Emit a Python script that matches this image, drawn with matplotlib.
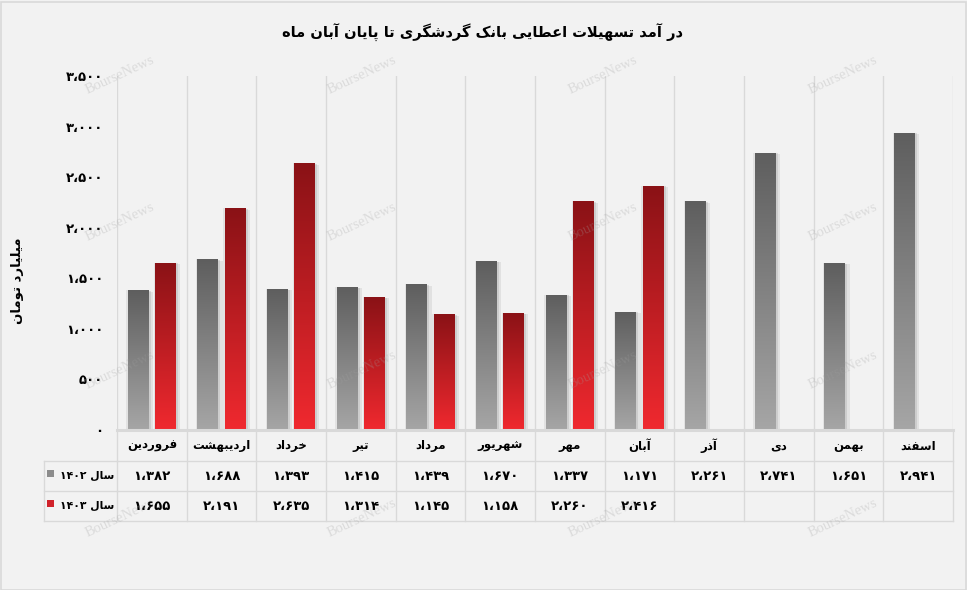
import matplotlib
matplotlib.use("Agg")
import matplotlib.pyplot as plt
import numpy as np
from matplotlib.colors import LinearSegmentedColormap
from matplotlib.patches import Rectangle
from matplotlib import patheffects as pe

# ---------------- data ----------------
months = ["فروردین", "اردیبهشت", "خرداد", "تیر", "مرداد", "شهریور",
          "مهر", "آبان", "آذر", "دی", "بهمن", "اسفند"]
series_names = ["سال ۱۴۰۲", "سال ۱۴۰۳"]
values_1402 = [1382, 1688, 1393, 1415, 1439, 1670, 1337, 1171, 2261, 2741, 1651, 2941]
values_1403 = [1655, 2191, 2635, 1314, 1145, 1158, 2260, 2416]
y_ticks = [0, 500, 1000, 1500, 2000, 2500, 3000, 3500]
title = "در آمد تسهیلات اعطایی بانک گردشگری تا پایان آبان ماه"
y_label = "میلیارد تومان"

# ---------------- simple Persian shaping ----------------
DUAL = {'ب': 0xFE8F, 'ت': 0xFE95, 'ث': 0xFE99, 'ج': 0xFE9D, 'ح': 0xFEA1,
        'خ': 0xFEA5, 'س': 0xFEB1, 'ش': 0xFEB5, 'ص': 0xFEB9, 'ض': 0xFEBD,
        'ط': 0xFEC1, 'ظ': 0xFEC5, 'ع': 0xFEC9, 'غ': 0xFECD, 'ف': 0xFED1,
        'ق': 0xFED5, 'ل': 0xFEDD, 'م': 0xFEE1, 'ن': 0xFEE5, 'ه': 0xFEE9,
        'پ': 0xFB56, 'چ': 0xFB7A, 'ک': 0xFB8E, 'گ': 0xFB92, 'ی': 0xFBFC}
RIGHT = {'ا': 0xFE8D, 'آ': 0xFE81, 'د': 0xFEA9, 'ذ': 0xFEAB, 'ر': 0xFEAD,
         'ز': 0xFEAF, 'ژ': 0xFB8A, 'و': 0xFEED}
LAMALEF = {'ا': 0xFEFB, 'آ': 0xFEF5}


def is_letter(c):
    return c in DUAL or c in RIGHT


def shape_word(w):
    out = []
    i = 0
    n = len(w)
    while i < n:
        c = w[i]
        prev_conn = i > 0 and w[i - 1] in DUAL
        if c == 'ل' and i + 1 < n and w[i + 1] in LAMALEF:
            base = LAMALEF[w[i + 1]]
            out.append(chr(base + (1 if prev_conn else 0)))
            i += 2
            continue
        next_conn = i + 1 < n and is_letter(w[i + 1])
        if c in DUAL:
            b = DUAL[c]
            if prev_conn and next_conn:
                out.append(chr(b + 3))
            elif prev_conn:
                out.append(chr(b + 1))
            elif next_conn:
                out.append(chr(b + 2))
            else:
                out.append(chr(b))
        elif c in RIGHT:
            b = RIGHT[c]
            out.append(chr(b + (1 if prev_conn else 0)))
        else:
            out.append(c)
        i += 1
    return ''.join(reversed(out))


def rtl(text):
    words = text.split(' ')
    shaped = []
    for w in words:
        if any(is_letter(c) for c in w):
            shaped.append(shape_word(w))
        else:
            shaped.append(w)
    return ' '.join(reversed(shaped))


DIG = str.maketrans('0123456789', '۰۱۲۳۴۵۶۷۸۹')


def fa_num(v):
    return f"{v:,}".replace(',', '،').translate(DIG)


# ---------------- figure ----------------
W, H = 967, 590
BG = '#f2f2f2'
GRID = '#d9d9d9'
plt.rcParams['font.family'] = ['DejaVu Sans']
fig = plt.figure(figsize=(W / 100, H / 100), dpi=100, facecolor=BG)

L, R, T, B = 117, 953, 76, 430
ax = fig.add_axes([L / W, 1 - B / H, (R - L) / W, (B - T) / H])
ax.set_facecolor(BG)

n = len(months)
x = np.arange(n)
bw = 0.30
off = 0.195

gray_cmap = LinearSegmentedColormap.from_list('g', ['#5e5e5e', '#a6a6a6'])
red_cmap = LinearSegmentedColormap.from_list('r', ['#8a1216', '#f0292f'])
grad = np.linspace(0, 1, 256).reshape(-1, 1)

shadow = [pe.SimplePatchShadow(offset=(3, -1), shadow_rgbFace='#b0b0b0', alpha=0.25),
          pe.SimplePatchShadow(offset=(1.5, -0.5), shadow_rgbFace='#a0a0a0', alpha=0.3),
          pe.SimplePatchShadow(offset=(-1, 0), shadow_rgbFace='#c0c0c0', alpha=0.3),
          pe.Normal()]
bars1 = ax.bar(x - off, values_1402, bw, color='#808080', zorder=3, path_effects=shadow, linewidth=0)
bars2 = ax.bar(x[:len(values_1403)] + off, values_1403, bw, color='#c0191f', zorder=3,
               path_effects=shadow, linewidth=0)

for bars, cmap in ((bars1, gray_cmap), (bars2, red_cmap)):
    for p in bars:
        x0, w0, h0 = p.get_x(), p.get_width(), p.get_height()
        im = ax.imshow(grad, extent=[x0, x0 + w0, 0, h0], aspect='auto', cmap=cmap,
                       origin='upper', zorder=4, interpolation='bilinear')
        im.set_clip_path(p)

ax.set_xlim(-0.5, n - 0.5)
ax.set_ylim(0, 3500)
ax.set_yticks(y_ticks)
ax.set_yticklabels([fa_num(v) for v in y_ticks], fontweight='bold', fontsize=9.5)
ax.tick_params(axis='y', length=0, pad=10)
ax.set_xticks([])
for s in ax.spines.values():
    s.set_visible(False)

# vertical category separators
for b in np.arange(-0.5, n, 1.0):
    ax.axvline(b, color=GRID, lw=1, zorder=1)

# ---------------- table ----------------
ph = B - T


def ay(py):
    return (B - py) / ph


xt = ax.get_xaxis_transform()
row_lines = [461, 491, 521]
ax.plot([-0.5, n - 0.5], [0, 0], transform=xt, color=GRID, lw=2.2, clip_on=False, zorder=5)
for b in np.arange(-0.5, n, 1.0):
    ax.plot([b, b], [ay(430), ay(521)], transform=xt, color=GRID, lw=1, clip_on=False)
for py in row_lines:
    ax.plot([-0.5, n - 0.5], [ay(py), ay(py)], transform=xt, color=GRID, lw=1, clip_on=False)
    fig.add_artist(plt.Line2D([44 / W, L / W], [1 - py / H, 1 - py / H], color=GRID, lw=1))
fig.add_artist(plt.Line2D([44 / W, 44 / W], [1 - 461 / H, 1 - 521 / H], color=GRID, lw=1))

for i, m in enumerate(months):
    ax.text(i, ay(446), rtl(m), transform=xt, ha='center', va='center',
            fontsize=8.5, fontweight='bold', clip_on=False)
for i, v in enumerate(values_1402):
    ax.text(i, ay(476), fa_num(v), transform=xt, ha='center', va='center',
            fontsize=9.5, fontweight='bold', clip_on=False)
for i, v in enumerate(values_1403):
    ax.text(i, ay(506), fa_num(v), transform=xt, ha='center', va='center',
            fontsize=9.5, fontweight='bold', clip_on=False)

for k, (name, col) in enumerate(zip(series_names, ['#8c8c8c', '#d0222a'])):
    cy = 476 + 30 * k
    fig.add_artist(Rectangle((47 / W, 1 - (cy + 1) / H), 7 / W, 7 / H,
                             transform=fig.transFigure, facecolor=col, edgecolor='none'))
    fig.text(114 / W, 1 - cy / H, rtl(name), ha='right', va='center',
             fontsize=7.8, fontweight='bold')

# ---------------- titles ----------------
fig.text(483 / W, 1 - 33 / H, rtl(title), ha='center', va='center',
         fontsize=10.5, fontweight='bold')
fig.text(18 / W, 1 - 281 / H, rtl(y_label), ha='center', va='center',
         rotation=90, fontsize=9.5, fontweight='bold')

# watermark
for wx in (120, 362, 603, 843):
    for wy in (75, 222, 370, 518):
        fig.text(wx / W, 1 - wy / H, 'BourseNews', ha='center', va='center', rotation=25,
                 fontsize=10.5, family='Liberation Serif', color='#a0a0a0', alpha=0.28, zorder=20)

# figure border
fig.add_artist(Rectangle((0.5 / W, 0.5 / H), (W - 1.5) / W, (H - 2) / H, transform=fig.transFigure,
                         fill=False, edgecolor=GRID, lw=1.2))

fig.savefig('out.png', dpi=100, facecolor=BG)
